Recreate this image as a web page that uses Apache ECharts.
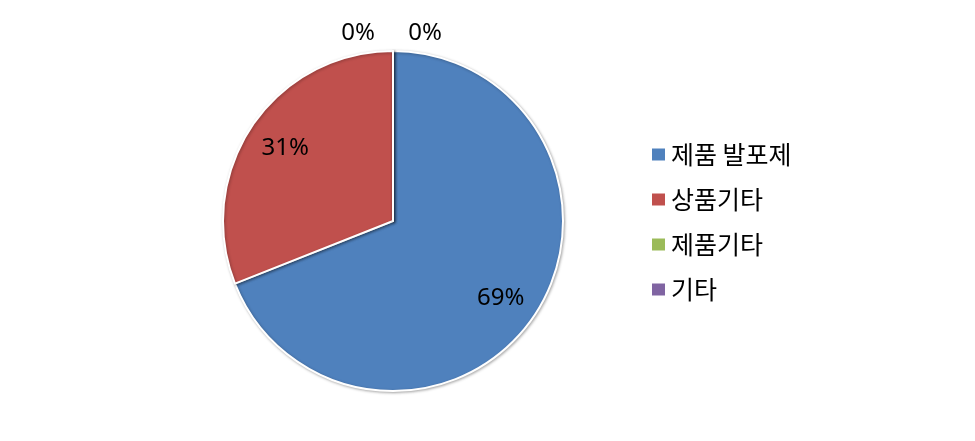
<!DOCTYPE html>
<html>
<head>
<meta charset="utf-8">
<script src="https://cdn.jsdelivr.net/npm/echarts@6/dist/echarts.min.js"></script>
<style>
  html, body { margin: 0; padding: 0; background: #fff; }
  #pieChart { width: 975px; height: 441px; }
</style>
</head>
<body>
<div id="pieChart"></div>
<script>
const categories = ['제품 발포제', '상품기타', '제품기타', '기타'];
const shares = [69, 31, 0, 0];
const colors = ['#4F81BD', '#C0504D', '#9BBB59', '#8064A2'];

const cx = 393;
const cy = 221;

const chart = echarts.init(document.getElementById('pieChart'));

const option = {
  color: colors,
  animation: false,
  legend: {
    orient: 'vertical',
    left: 645,
    top: 137,
    itemWidth: 15,
    itemHeight: 14,
    itemGap: 20,
    icon: 'rect',
    textStyle: {
      fontFamily: 'Noto Sans CJK KR',
      fontSize: 25,
      color: '#000'
    },
    data: categories
  },
  series: [
    {
      name: '',
      type: 'pie',
      radius: 170,
      center: [cx, cy],
      startAngle: 90,
      clockwise: true,
      avoidLabelOverlap: false,
      stillShowZeroSum: true,
      labelLine: { show: false },
      label: {
        show: true,
        position: 'inside',
        formatter: '{d}%',
        fontFamily: 'Noto Sans',
        fontSize: 24,
        color: '#000'
      },
      labelLayout: function (params) {
        const r = params.labelRect;
        const lx = r.x + r.width / 2;
        const ly = r.y + r.height / 2;
        if (params.dataIndex >= 2) {
          // zero slices at 12 o'clock, labels sit above the pie
          const tx = params.dataIndex === 2 ? 358 : 425;
          return { dx: tx - lx, dy: 33 - ly };
        }
        return { dx: (lx - cx) * 0.48, dy: (ly - cy) * 0.5 + (params.dataIndex === 0 ? 3 : 1) };
      },
      itemStyle: {
        borderColor: '#fff',
        borderWidth: 2,
        shadowBlur: 3,
        shadowOffsetX: 1,
        shadowOffsetY: 1,
        shadowColor: 'rgba(0, 0, 0, 0.3)'
      },
      emphasis: { disabled: true },
      data: categories.map((name, i) => ({ name: name, value: shares[i] }))
    }
  ]
};

chart.setOption(option);
</script>
</body>
</html>
